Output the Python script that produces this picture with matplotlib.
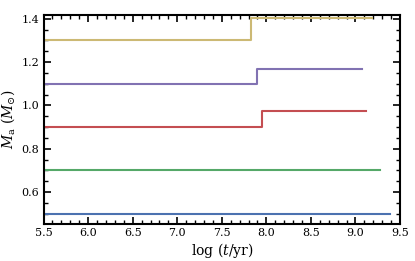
import numpy as np
import matplotlib
matplotlib.use('Agg')
import matplotlib.pyplot as plt
from matplotlib.ticker import MultipleLocator

plt.rcParams['font.family'] = 'DejaVu Serif'
plt.rcParams['mathtext.fontset'] = 'dejavuserif'

# ---- data: step tracks (log t start, step, end) and masses ----
t_start = 5.5
t_step = [None, None, 7.95, 7.89, 7.83]
t_end = [9.385, 9.27, 9.12, 9.07, 9.18]
m_before = [0.5, 0.7, 0.9, 1.1, 1.3]
m_after = [0.5, 0.7, 0.975, 1.17, 1.405]
colors = ['#4C72B0', '#55A868', '#C44E52', '#8172B2', '#CCB974']

fig = plt.figure(figsize=(4.15, 2.61), dpi=100)
ax = fig.add_axes([0.105, 0.142, 0.859, 0.801])

for ts, te, m0, m1, c in zip(t_step, t_end, m_before, m_after, colors):
    if ts is None:
        x = [t_start, te]
        y = [m0, m1]
    else:
        x = [t_start, ts, ts, te]
        y = [m0, m0, m1, m1]
    ax.plot(x, y, color=c, lw=1.5)

ax.set_xlim(5.5, 9.5)
ax.set_ylim(0.453, 1.418)
ax.xaxis.set_major_locator(MultipleLocator(0.5))
ax.xaxis.set_minor_locator(MultipleLocator(0.1))
ax.yaxis.set_major_locator(MultipleLocator(0.2))
ax.yaxis.set_minor_locator(MultipleLocator(0.05))
ax.tick_params(which='both', direction='in', top=True, right=True, labelsize=8)
ax.tick_params(which='major', length=5, width=1.2, pad=3)
ax.tick_params(which='minor', length=3, width=1)
for sp in ax.spines.values():
    sp.set_linewidth(1.5)

ax.set_xlabel(r'log ($t$/yr)', fontsize=10, labelpad=2)
ax.set_ylabel(r'$M_{\rm a}$ ($M_{\odot}$)', fontsize=10, labelpad=3)

fig.savefig('out.png', dpi=100)
